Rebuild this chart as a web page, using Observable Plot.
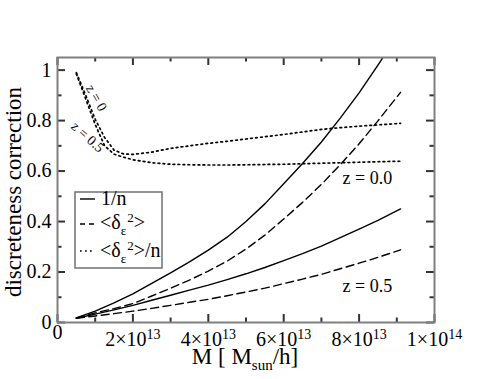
<!DOCTYPE html>
<html><head><meta charset="utf-8">
<script src="https://cdn.jsdelivr.net/npm/d3@7"></script>
<script src="https://cdn.jsdelivr.net/npm/@observablehq/plot@0.6"></script>
<style>
body{margin:0;background:#fff;}
#chart svg{font-family:"Liberation Serif","Times New Roman",serif;background:#fff;}
</style></head><body><div id="chart"></div>
<script>
// mass in units of 1e13 Msun/h
const mass = [0.5,1,1.5,2,2.5,3,3.5,4,4.5,5,5.5,6,6.5,7,7.5,8,8.5,9.1];
const invN_z0   = [0.018,0.045,0.078,0.113,0.155,0.197,0.240,0.287,0.338,0.400,0.470,0.550,0.630,0.715,0.810,0.910,1.020,1.156];
const delta_z0  = [0.018,0.038,0.055,0.075,0.105,0.136,0.168,0.204,0.243,0.291,0.346,0.410,0.476,0.547,0.625,0.708,0.799,0.912];
const invN_z05  = [0.017,0.033,0.050,0.068,0.088,0.108,0.128,0.148,0.170,0.193,0.218,0.245,0.273,0.303,0.336,0.370,0.405,0.450];
const delta_z05 = [0.017,0.026,0.035,0.045,0.056,0.068,0.080,0.092,0.106,0.121,0.136,0.154,0.172,0.191,0.213,0.235,0.258,0.288];
const massFine = [0.5,0.75,1,1.25,1.5,1.75,2,2.5,3,3.5,4,4.5,5,5.5,6,6.5,7,7.5,8,8.5,9.1];
const ratio_z0  = [0.99,0.90,0.805,0.733,0.683,0.668,0.666,0.675,0.69,0.70,0.71,0.718,0.727,0.736,0.745,0.755,0.765,0.772,0.778,0.783,0.789];
const ratio_z05 = [0.985,0.885,0.785,0.70,0.667,0.655,0.645,0.633,0.627,0.625,0.624,0.624,0.625,0.626,0.627,0.629,0.631,0.633,0.635,0.637,0.639];

const xMajor = [0,2e13,4e13,6e13,8e13,1e14];
const xMinor = [1e13,3e13,5e13,7e13,9e13];
const xTickLabels = ["0","2×10^13","4×10^13","6×10^13","8×10^13","1×10^14"];
const yMajor = [0,0.2,0.4,0.6,0.8,1];
const yMinor = [0.1,0.3,0.5,0.7,0.9];
const yTickLabels = ["0","0.2","0.4","0.6","0.8","1"];

const rowsOf = (ms, vs, key) => ms.map((m, i) => ({M: m * 1e13, v: vs[i], key}));
const solid = [...rowsOf(mass, invN_z0, "z0"), ...rowsOf(mass, invN_z05, "z05")];
const dashed = [...rowsOf(mass, delta_z0, "z0"), ...rowsOf(mass, delta_z05, "z05")];
const dotted = [...rowsOf(massFine, ratio_z0, "z0"), ...rowsOf(massFine, ratio_z05, "z05")];

const W = 491, H = 379, mL = 57, mR = 57, mT = 57, mB = 57;
const fw = W - mL - mR, fh = H - mT - mB;
const tk = {stroke: "#333", strokeWidth: 2};
const tickMarks = [];
for (const [vals, len] of [[xMajor, 8], [xMinor, 4.5]]) {
  tickMarks.push(Plot.tickX(vals, {x: d => d, insetTop: fh - len, ...tk}));
  tickMarks.push(Plot.tickX(vals, {x: d => d, insetBottom: fh - len, ...tk}));
}
for (const [vals, len] of [[yMajor, 8], [yMinor, 4.5]]) {
  tickMarks.push(Plot.tickY(vals, {y: d => d, insetRight: fw - len, ...tk}));
  tickMarks.push(Plot.tickY(vals, {y: d => d, insetLeft: fw - len, ...tk}));
}

const chart = Plot.plot({
  width: W, height: H,
  marginLeft: mL, marginRight: mR, marginTop: mT, marginBottom: mB,
  x: {domain: [0, 1e14]},
  y: {domain: [0, 1.05]},
  style: {fontFamily: "Liberation Serif, serif"},
  marks: [
    Plot.line(solid, {x: "M", y: "v", z: "key", stroke: "#000", strokeWidth: 1.4, clip: true}),
    Plot.line(dashed, {x: "M", y: "v", z: "key", stroke: "#000", strokeWidth: 1.4, strokeDasharray: "8,4.5", clip: true}),
    Plot.line(dotted, {x: "M", y: "v", z: "key", stroke: "#000", strokeWidth: 1.7, strokeDasharray: "1.7,3.3", clip: true}),
    ...tickMarks,
    Plot.frame({stroke: "#808080", strokeWidth: 2}),
    Plot.axisX(xMajor, {anchor: "bottom", tickSize: 0, tickPadding: 9, fontSize: 20, fill: "#000", label: null,
      tickFormat: d => xTickLabels[xMajor.indexOf(d)]}),
    Plot.axisY(yMajor, {anchor: "left", tickSize: 0, tickPadding: 6, fontSize: 20, fill: "#000", label: null,
      tickFormat: d => yTickLabels[yMajor.indexOf(d)]}),
    Plot.text(["z = 0.0"], {x: 7.56e13, y: 0.57, text: d => d, textAnchor: "start", fontSize: 18, fill: "#000"}),
    Plot.text(["z = 0.5"], {x: 7.56e13, y: 0.1426, text: d => d, textAnchor: "start", fontSize: 18, fill: "#000"}),
    Plot.text(["z = 0"], {x: 1.03e13, y: 0.89, text: d => d, rotate: 60, fontSize: 14, fill: "#000"}),
    Plot.text(["z = 0.5"], {x: 0.8e13, y: 0.735, text: d => d, rotate: 42, fontSize: 14, fill: "#000"})
  ]
});
document.getElementById("chart").appendChild(chart);

const svg = d3.select(chart);
// superscripts on x tick labels
svg.selectAll('g[aria-label="x-axis tick label"] text').each(function() {
  const t = d3.select(this);
  const s = t.text();
  if (s.includes("^")) {
    const [base, exp] = s.split("^");
    t.text(base);
    t.append("tspan").attr("dy", "-0.45em").attr("font-size", 14).text(exp);
  } else {
    t.attr("transform", (t.attr("transform") || "") + " translate(0,-7)");
  }
});

// y title
svg.append("text").attr("transform", "translate(21,192) rotate(-90)")
  .attr("text-anchor", "middle").attr("font-size", 23).attr("fill", "#000")
  .text("discreteness correction");
// x title
const xt = svg.append("text").attr("x", 245).attr("y", 364).attr("text-anchor", "middle")
  .attr("font-size", 23).attr("fill", "#000");
xt.append("tspan").text("M [ M");
xt.append("tspan").attr("font-size", 15).attr("dy", 6).text("sun");
xt.append("tspan").attr("dy", -6).text("/h]");

// legend
const lg = svg.append("g").attr("font-size", 20).attr("fill", "#000").attr("text-anchor", "start");
lg.append("rect").attr("x", 75).attr("y", 192).attr("width", 87).attr("height", 76)
  .attr("fill", "#fff").attr("stroke", "#707070").attr("stroke-width", 1.5);
const rowsY = [199, 224, 251];
const dashes = [null, "5,4", "1.7,3.3"];
rowsY.forEach((y, i) => {
  const l = lg.append("line").attr("x1", 80).attr("x2", 95).attr("y1", y).attr("y2", y)
    .attr("stroke", "#000").attr("stroke-width", i === 2 ? 1.7 : 1.4);
  if (dashes[i]) l.attr("stroke-dasharray", dashes[i]);
});
lg.append("text").attr("x", 101).attr("y", 205).attr("text-anchor", "start").text("1/n");
function deltaText(y, tail) {
  const t = lg.append("text").attr("x", 100).attr("y", y).attr("text-anchor", "start");
  t.append("tspan").text("<δ");
  t.append("tspan").attr("font-size", 13).attr("dy", 6).text("ε");
  t.append("tspan").attr("font-size", 13).attr("dy", -13).attr("dx", 1).text("2");
  t.append("tspan").attr("dy", 7).text(">" + tail);
}
deltaText(229, "");
deltaText(257, "/n");
</script></body></html>
